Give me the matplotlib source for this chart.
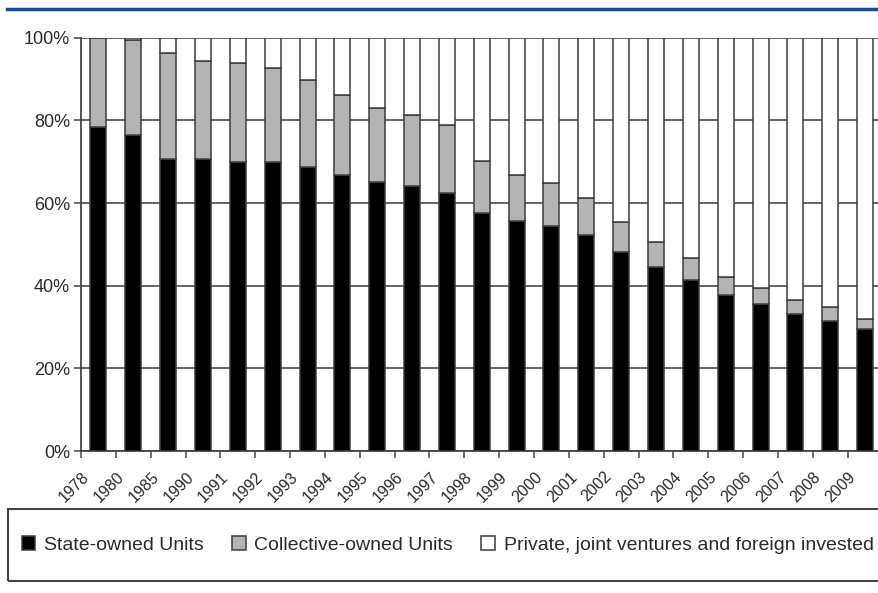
import matplotlib.pyplot as plt
import matplotlib.patches as mpatches
from matplotlib.lines import Line2D
from matplotlib.transforms import ScaledTranslation
import numpy as np

plt.rcParams['font.family'] = ['Liberation Sans', 'DejaVu Sans']

# Years shown on the category axis
years = ['1978', '1980', '1985', '1990', '1991', '1992', '1993', '1994', '1995',
         '1996', '1997', '1998', '1999', '2000', '2001', '2002', '2003', '2004',
         '2005', '2006', '2007', '2008', '2009']

# Shares in percent
state_owned = [78.4, 76.5, 70.6, 70.6, 70.0, 69.9, 68.6, 66.8, 65.2, 64.2, 62.5,
               57.7, 55.7, 54.5, 52.3, 48.2, 44.4, 41.4, 37.7, 35.5, 33.1, 31.5, 29.4]
collective_owned = [21.6, 23.0, 25.6, 23.8, 23.8, 22.8, 21.1, 19.3, 17.9, 17.1, 16.4,
                    12.5, 11.1, 10.3, 8.8, 7.2, 6.1, 5.4, 4.5, 3.9, 3.4, 3.3, 2.5]
private_other = [0.0, 0.5, 3.8, 5.6, 6.2, 7.3, 10.3, 13.9, 16.9, 18.7, 21.1,
                 29.8, 33.2, 35.2, 38.9, 44.6, 49.5, 53.2, 57.8, 60.6, 63.5, 65.2, 68.1]

series_labels = ['State-owned Units', 'Collective-owned Units',
                 'Private, joint ventures and foreign invested']
series_colors = ['#000000', '#b4b4b4', '#ffffff']

W, H = 879, 593
fig = plt.figure(figsize=(W / 100, H / 100), dpi=100)

# plot area: left edge x=81, 0% at y=451, 100% at y=37.7, slot width ~34.85 px
slot = 34.85
ax_left, ax_bottom, ax_top = 81, 451, 37.7
ax = fig.add_axes([ax_left / W, 1 - ax_bottom / H,
                   slot * len(years) / W, (ax_bottom - ax_top) / H])

x = np.arange(len(years))
edge = '#3c3c3c'
bottom = np.zeros(len(years))
bars = []
for vals, col, lab in zip([state_owned, collective_owned, private_other],
                          series_colors, series_labels):
    b = ax.bar(x, vals, width=0.46, bottom=bottom, color=col, edgecolor=edge,
               linewidth=1.1, label=lab, zorder=3)
    bars.append(b)
    bottom = bottom + np.array(vals)

ax.set_xlim(-0.5, len(years) - 0.5)
ax.set_ylim(0, 100)

# gridlines
ax.set_yticks(np.arange(0, 101, 20))
ax.set_yticklabels([f'{v}%' for v in range(0, 101, 20)], fontsize=13, color='#2a2a2a')
ax.yaxis.grid(True, color='#4a4a4a', linewidth=1.2, zorder=0)
ax.tick_params(axis='y', length=5, width=1.1, color='#444444', pad=3)

# tick marks between categories, labels at the centers
ax.set_xticks(np.arange(-0.5, len(years), 1.0))
ax.set_xticklabels([])
ax.tick_params(axis='x', which='major', length=5, width=1.1, color='#444444')
ax.set_xticks(x, minor=True)
ax.set_xticklabels(years, minor=True, rotation=45, ha='right', va='top',
                   rotation_mode='anchor', fontsize=11.5, color='#2a2a2a')
ax.tick_params(axis='x', which='minor', length=0, pad=13)
shift = ScaledTranslation(-17 / 100, 0, fig.dpi_scale_trans)
for lbl in ax.get_xticklabels(minor=True):
    lbl.set_transform(lbl.get_transform() + shift)

for s in ['top', 'right']:
    ax.spines[s].set_visible(False)
for s in ['left', 'bottom']:
    ax.spines[s].set_color('#444444')
    ax.spines[s].set_linewidth(1.3)

# blue rule across the top
fig.add_artist(Line2D([7 / W, 1.0], [1 - 9 / H, 1 - 9 / H], color='#1b4b98',
                      linewidth=2.5, transform=fig.transFigure))

# legend box running off the right edge
fig.add_artist(mpatches.Rectangle((8 / W, 1 - 581 / H), 1.0, 72 / H,
                                  transform=fig.transFigure, fill=False,
                                  edgecolor='#444444', linewidth=1.5))
leg = fig.legend(handles=bars, labels=series_labels, ncol=3, frameon=False,
                 loc='center left', bbox_to_anchor=(14 / W, 1 - 545 / H),
                 fontsize=14, handlelength=0.7, handleheight=0.7,
                 handletextpad=0.45, columnspacing=1.45, borderaxespad=0)
for t in leg.get_texts():
    t.set_color('#2a2a2a')

fig.savefig('out.png', dpi=100)
plt.close()
